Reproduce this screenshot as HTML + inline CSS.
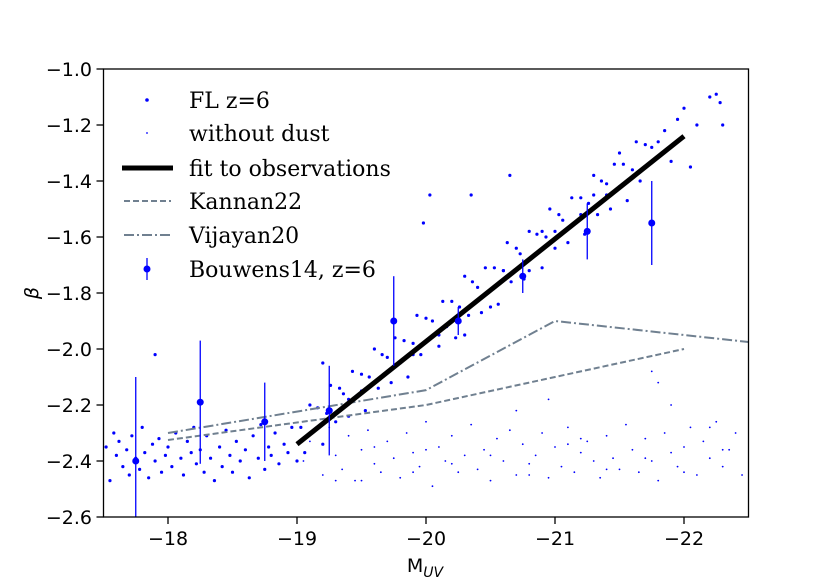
<!DOCTYPE html>
<html><head><meta charset="utf-8"><style>
body{margin:0;background:#fff;}
svg{display:block;}
.tick{font-family:"DejaVu Sans","Liberation Sans",sans-serif;font-size:19px;fill:#000;}
.leg{font-family:"DejaVu Serif","Liberation Serif",serif;font-size:22px;fill:#000;}
</style></head><body>
<svg id="chart" width="830" height="581" viewBox="0 0 830 581">
<g id="marks"></g>
<rect x="103.5" y="69" width="645" height="448" fill="none" stroke="#000" stroke-width="1.3"/>
<g id="axes"></g>
<text x="38" y="293" class="tick" font-size="21" transform="rotate(-90 38 293)" text-anchor="middle" font-style="italic">β</text>
<text x="425" y="572" class="tick" font-size="20" text-anchor="middle">M<tspan font-size="14" dy="5" font-style="italic">UV</tspan></text>
<g>
<circle cx="147" cy="100" r="1.8" fill="#0000ff"/>
<text x="189" y="108" class="leg">FL z=6</text>
<circle cx="147" cy="133" r="0.9" fill="#0000ff"/>
<text x="189" y="141" class="leg">without dust</text>
<line x1="122" y1="168" x2="173" y2="168" stroke="#000" stroke-width="5"/>
<text x="189" y="176" class="leg">fit to observations</text>
<line x1="124" y1="201" x2="171" y2="201" stroke="#708090" stroke-width="2" stroke-dasharray="6,3"/>
<text x="189" y="209" class="leg">Kannan22</text>
<line x1="124" y1="235" x2="171" y2="235" stroke="#708090" stroke-width="2" stroke-dasharray="10,3,2,3"/>
<text x="189" y="243" class="leg">Vijayan20</text>
<line x1="147" y1="258" x2="147" y2="280" stroke="#0000ff" stroke-width="1.3"/>
<circle cx="147" cy="269" r="3.5" fill="#0000ff"/>
<text x="189" y="277" class="leg">Bouwens14, z=6</text>
</g>
</svg>
<script>
const xTicks=[-18,-19,-20,-21,-22];
const yTicks=[-1.0,-1.2,-1.4,-1.6,-1.8,-2.0,-2.2,-2.4,-2.6];
const flM=[-17.52,-17.55,-17.58,-17.6,-17.62,-17.65,-17.68,-17.7,-17.72,-17.75,-17.78,-17.8,-17.82,-17.85,-17.88,-17.9,-17.93,-17.95,-17.98,-18.0,-17.9,-18.03,-18.06,-18.1,-18.12,-18.15,-18.18,-18.2,-18.22,-18.25,-18.28,-18.3,-18.33,-18.36,-18.4,-18.42,-18.45,-18.48,-18.5,-18.53,-18.56,-18.6,-18.63,-18.66,-18.7,-18.72,-18.75,-18.78,-18.8,-18.83,-18.86,-18.9,-18.93,-18.96,-19.0,
-19.03,-19.06,-19.1,-19.13,-19.16,-19.2,-19.2,-19.23,-19.26,-19.3,-19.33,-19.36,-19.4,-19.43,-19.46,-19.5,-19.53,-19.56,-19.6,-19.63,-19.66,-19.7,-19.73,-19.76,-19.8,-19.83,-19.86,-19.9,-19.93,-19.96,-20.0,-20.05,-20.1,-20.13,-20.16,-20.2,-20.23,-20.26,-20.3,-20.33,-20.36,-20.4,-20.43,-20.46,-20.5,-20.53,-20.56,-20.6,-20.63,-20.66,-20.7,-20.73,-20.76,-20.8,-20.83,-20.86,-20.9,-20.93,-20.96,-21.0,-21.03,-21.06,-21.1,-21.13,-21.16,-21.2,-21.23,-21.26,-21.3,-21.33,-21.36,-21.4,-21.43,-21.46,-21.5,-21.53,-21.56,-21.6,-21.63,-21.66,-21.7,-21.8,-21.9,-22.0,-22.1,-22.2,-22.3,
-19.98,-20.03,-20.35,-20.65,-22.05,-22.25,-22.28,-20.3,-20.5,-20.8,-21.0,-21.2,-21.4,-20.1,-19.9,-21.75,-21.85,-21.95,-21.5,-21.3,-20.9,-20.6,-19.5,-19.7,-19.4];
const flB=[-2.35,-2.47,-2.30,-2.38,-2.33,-2.42,-2.36,-2.45,-2.31,-2.39,-2.43,-2.28,-2.37,-2.46,-2.34,-2.40,-2.32,-2.44,-2.38,-2.35,-2.02,-2.42,-2.30,-2.39,-2.45,-2.33,-2.37,-2.28,-2.41,-2.36,-2.44,-2.31,-2.39,-2.47,-2.35,-2.42,-2.29,-2.38,-2.44,-2.33,-2.40,-2.36,-2.46,-2.31,-2.39,-2.27,-2.43,-2.35,-2.38,-2.30,-2.41,-2.34,-2.37,-2.28,-2.40,
-2.28,-2.37,-2.20,-2.29,-2.21,-2.34,-2.05,-2.23,-2.13,-2.26,-2.14,-2.16,-2.24,-2.08,-2.17,-2.09,-2.22,-2.10,-2.00,-2.14,-2.02,-2.03,-2.12,-1.96,-2.05,-1.97,-2.10,-1.98,-1.88,-2.02,-1.89,-1.90,-1.99,-1.83,-1.92,-1.83,-1.96,-1.85,-1.74,-1.88,-1.76,-1.78,-1.87,-1.71,-1.79,-1.71,-1.84,-1.72,-1.62,-1.76,-1.64,-1.66,-1.75,-1.58,-1.67,-1.59,-1.71,-1.60,-1.50,-1.64,-1.52,-1.54,-1.62,-1.46,-1.55,-1.46,-1.59,-1.48,-1.38,-1.52,-1.40,-1.41,-1.50,-1.34,-1.42,-1.34,-1.47,-1.36,-1.26,-1.40,-1.27,-1.26,-1.33,-1.14,-1.20,-1.10,-1.20,
-1.55,-1.45,-1.45,-1.38,-1.35,-1.09,-1.12,-1.95,-1.85,-1.72,-1.58,-1.52,-1.45,-1.95,-2.02,-1.28,-1.22,-1.18,-1.30,-1.45,-1.58,-1.72,-2.15,-2.08,-2.18];
const ndM=[-19.05,-19.1,-19.2,-19.25,-19.3,-19.35,-19.4,-19.45,-19.5,-19.55,-19.6,-19.65,-19.7,-19.75,-19.8,-19.85,-19.9,-19.95,-20.0,-20.05,-20.1,-20.15,-20.2,-20.25,-20.3,-20.35,-20.4,-20.45,-20.5,-20.55,-20.6,-20.65,-20.7,-20.75,-20.8,-20.85,-20.9,-20.95,-21.0,-21.05,-21.1,-21.15,-21.2,-21.25,-21.3,-21.35,-21.4,-21.45,-21.5,-21.55,-21.6,-21.65,-21.7,-21.75,-21.8,-21.85,-21.9,-21.95,-22.0,-22.05,-22.1,-22.15,-22.2,-22.25,-22.3,-22.35,-22.4,-22.45,-19.3,-19.6,-19.9,-20.2,-20.5,-20.8,-21.1,-21.4,-21.7,-22.0,-22.3,-21.75,-21.8,-20.95,-20.7,-19.5,-20.0,-21.2,-21.9,-22.2];
const ndB=[-2.40,-2.33,-2.45,-2.28,-2.38,-2.43,-2.31,-2.47,-2.36,-2.29,-2.41,-2.44,-2.33,-2.39,-2.46,-2.30,-2.37,-2.42,-2.26,-2.49,-2.35,-2.40,-2.31,-2.44,-2.38,-2.27,-2.43,-2.36,-2.47,-2.32,-2.40,-2.29,-2.45,-2.34,-2.41,-2.38,-2.30,-2.46,-2.35,-2.42,-2.28,-2.44,-2.37,-2.33,-2.40,-2.46,-2.31,-2.39,-2.43,-2.27,-2.36,-2.44,-2.32,-2.40,-2.47,-2.30,-2.37,-2.42,-2.35,-2.28,-2.45,-2.33,-2.39,-2.26,-2.42,-2.36,-2.30,-2.45,-2.47,-2.35,-2.44,-2.41,-2.38,-2.45,-2.34,-2.43,-2.39,-2.44,-2.36,-2.08,-2.12,-2.18,-2.22,-2.47,-2.36,-2.32,-2.20,-2.28];
const fitM=[-19,-22];
const fitB=[-2.34,-1.24];
const kanM=[-18,-20,-22];
const kanB=[-2.325,-2.2,-2.0];
const vijM=[-18,-20,-21,-22.5];
const vijB=[-2.3,-2.147,-1.9,-1.975];
const bwM=[-17.75,-18.25,-18.75,-19.25,-19.75,-20.25,-20.75,-21.25,-21.75];
const bwB=[-2.40,-2.19,-2.26,-2.22,-1.90,-1.90,-1.74,-1.58,-1.55];
const bwE=[0.30,0.22,0.14,0.16,0.16,0.05,0.06,0.10,0.15];

const NS='http://www.w3.org/2000/svg';
const X=m=>103.5+(-17.5-m)*129;
const Y=b=>69+(-1.0-b)*280;
const marks=document.getElementById('marks');
const axes=document.getElementById('axes');
function mk(tag,attrs,parent){const e=document.createElementNS(NS,tag);for(const k in attrs)e.setAttribute(k,attrs[k]);parent.appendChild(e);return e;}
const cp=mk('clipPath',{id:'clip'},marks);mk('rect',{x:103.5,y:69,width:645,height:448},cp);
const g=mk('g',{'clip-path':'url(#clip)'},marks);
for(let i=0;i<ndM.length;i++){const c=mk('circle',{cx:X(ndM[i]),cy:Y(ndB[i]),r:0.9,fill:'#0000ff'},g);

}
for(let i=0;i<flM.length;i++){const c=mk('circle',{cx:X(flM[i]),cy:Y(flB[i]),r:1.6,fill:'#0000ff'},g);

}
function poly(ms,bs,style,name){const p=mk('polyline',Object.assign({points:ms.map((m,i)=>X(m)+','+Y(bs[i])).join(' '),fill:'none'},style),g);

}
poly(kanM,kanB,{stroke:'#708090','stroke-width':2,'stroke-dasharray':'6,3'},'kannan22-line');
poly(vijM,vijB,{stroke:'#708090','stroke-width':2,'stroke-dasharray':'10,3,2,3'},'vijayan20-line');
poly(fitM,fitB,{stroke:'#000','stroke-width':5},'fit-line');
for(let i=0;i<bwM.length;i++){
const l=mk('line',{x1:X(bwM[i]),x2:X(bwM[i]),y1:Y(bwB[i]-bwE[i]),y2:Y(bwB[i]+bwE[i]),stroke:'#0000ff','stroke-width':1.3},g);


const c=mk('circle',{cx:X(bwM[i]),cy:Y(bwB[i]),r:3.5,fill:'#0000ff'},g);

}
xTicks.forEach(t=>{const x=X(t);mk('line',{x1:x,x2:x,y1:517,y2:524,stroke:'#000','stroke-width':1.3},axes);
const tx=mk('text',{x:x,y:545,'text-anchor':'middle',class:'tick'},axes);tx.textContent='\u2212'+Math.abs(t);

});
yTicks.forEach(t=>{const y=Y(t);mk('line',{x1:96.5,x2:103.5,y1:y,y2:y,stroke:'#000','stroke-width':1.3},axes);
const tx=mk('text',{x:92,y:y+7,'text-anchor':'end',class:'tick'},axes);tx.textContent='\u2212'+Math.abs(t).toFixed(1);

});
</script>
</body></html>
